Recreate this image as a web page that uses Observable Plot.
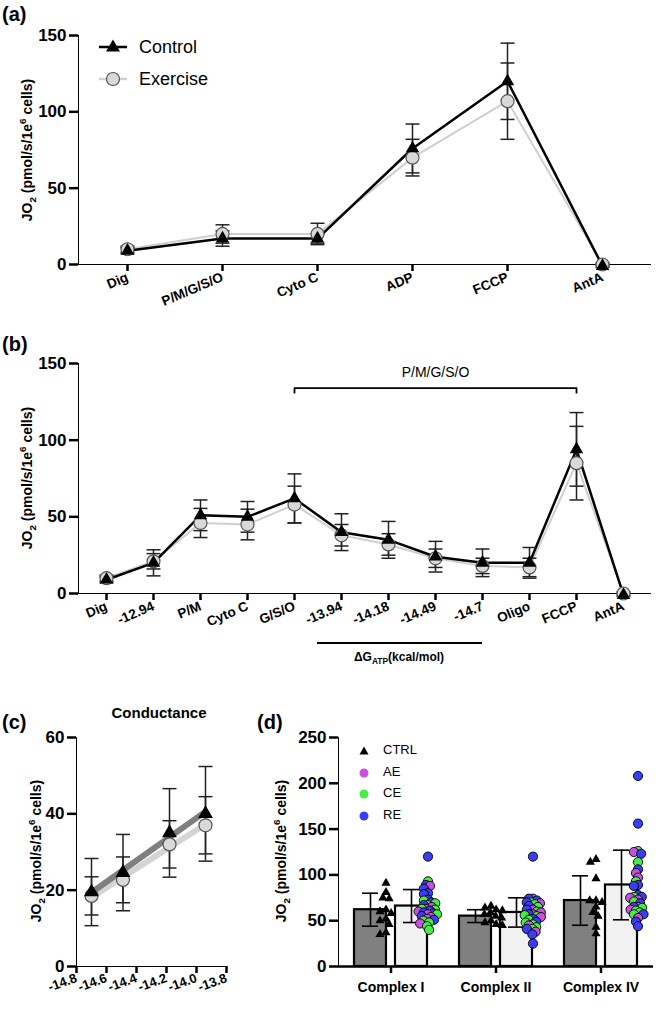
<!DOCTYPE html>
<html><head><meta charset="utf-8">
<script src="https://cdn.jsdelivr.net/npm/d3@7"></script>
<script src="https://cdn.jsdelivr.net/npm/@observablehq/plot@0.6"></script>
<style>
body{margin:0;background:#fff;}
#fig{position:relative;width:661px;height:1014px;overflow:hidden;font-family:"Liberation Sans",Arial,sans-serif;color:#000;background:#fff;}
.abs{position:absolute;white-space:nowrap;line-height:1;}
.pl{position:absolute;}
.pl svg{overflow:visible;}
.pl g[aria-label^="x-axis"], .pl g[aria-label^="y-axis"], .pl g[aria-label^="fx-axis"]{stroke-width:2.5px;}
.pl g[aria-label$="tick label"]{font-weight:700;}
.pl g[aria-label="y-axis tick label"]{font-size:17px;}
#pa g[aria-label="x-axis tick label"], #pb g[aria-label="x-axis tick label"]{font-size:13.5px;}
#pc g[aria-label="x-axis tick label"]{font-size:13px;}
#pd g[aria-label="fx-axis tick label"]{font-size:14px;}
.ylab{position:absolute;white-space:nowrap;font-weight:700;font-size:14px;transform:translate(-50%,-50%) rotate(-90deg);line-height:1;}
.ylab sub,.ylab sup{font-size:70%;line-height:0;}
.plab{position:absolute;font-weight:700;font-size:20px;line-height:1;}
</style>
</head>
<body>
<div id="fig"></div>
<script>
// ---------- Panel (a) data ----------
const stepsA = ["Dig", "P/M/G/S/O", "Cyto C", "ADP", "FCCP", "AntA"];
const ctrlA = [9, 17, 17, 76, 120, -1];
const ctrlSdA = [2, 5, 3, 16, 25, 1];
const exA = [10, 20, 20, 70, 107, 0];
const exSdA = [2, 6, 7, 12, 25, 1];

// ---------- Panel (b) data ----------
const stepsB = ["Dig", "-12.94", "P/M", "Cyto C", "G/S/O", "-13.94", "-14.18", "-14.49", "-14.7", "Oligo", "FCCP", "AntA"];
const ctrlB = [9, 20, 51, 50, 62, 40, 35, 24, 20, 20, 94, -1];
const ctrlSdB = [2, 8.5, 10, 10, 16, 12, 12, 10, 9, 10, 24, 1];
const exB = [10, 21, 46, 45, 58, 38, 32, 23, 18, 17, 85, 0];
const exSdB = [2, 5, 9.5, 10, 12, 7, 7, 6, 5, 6, 24, 1];
const bracketEndsB = ["G/S/O", "FCCP"];
const bracketMidB = "-14.49";
const bracketLabelB = "P/M/G/S/O";

// ---------- Panel (c) data ----------
const dgC = [-14.7, -14.49, -14.18, -13.94];
const ctrlC = [19.5, 24.6, 35, 40];
const ctrlSdC = [8.8, 10, 11.6, 12.4];
const exC = [18.5, 22.7, 32, 37];
const exSdC = [5, 6, 6.2, 7.5];
const ticksC = [-14.8, -14.6, -14.4, -14.2, -14.0, -13.8];

// ---------- Panel (d) data ----------
const complexes = ["Complex I", "Complex II", "Complex IV"];
const ctrlMeanD = [62, 55, 72];
const ctrlSdD = [18, 7, 27];
const exMeanD = [66, 59, 89];
const exSdD = [18, 16, 38];
const ctrlPtsD = [
  [91, 81, 75, 74, 62, 60, 58, 52, 50, 46, 37, 35],
  [66, 64, 62, 61, 59, 57, 55, 53, 50, 48, 46, 45],
  [117, 114, 96, 72, 72, 70, 65, 59, 55, 43, 36]
];
const aePtsD = [
  [88, 65, 63, 60, 57, 54, 52, 47],
  [74, 69, 62, 59, 57, 54, 45, 38],
  [125, 102, 97, 75, 73, 65, 62, 53]
];
const cePtsD = [
  [93, 72, 69, 67, 63, 62, 57, 50, 48, 44, 40],
  [70, 68, 65, 60, 56, 55, 51, 48, 46, 43, 41],
  [126, 114, 93, 76, 71, 64, 61, 59, 57]
];
const rePtsD = [
  [120, 89, 85, 80, 79, 73, 70, 67, 61, 59, 58, 55, 51],
  [120, 74, 72, 70, 66, 62, 57, 52, 49, 41, 35, 25],
  [208, 156, 123, 106, 89, 88, 78, 76, 69, 65, 57, 49, 44]
];
const groupColors = {AE: "#c94fde", CE: "#45ee45", RE: "#3c3cf2"};

// ---------- helpers ----------
const FONT = '"Liberation Sans", Arial, sans-serif';
const fig = document.getElementById("fig");
const capSymbol = {draw(ctx, size) { const r = Math.sqrt(size / Math.PI); ctx.moveTo(-r, 0); ctx.lineTo(r, 0); }};
// circle drawn larger than its layout radius so the swarm can overlap like the original
const swarmR = 2.6, swarmDraw = 4.6;
const swarmCircle = {draw(ctx, size) { const r = Math.sqrt(size / Math.PI) * (swarmDraw / swarmR); ctx.moveTo(r, 0); ctx.arc(0, 0, r, 0, 2 * Math.PI); }};
function place(el, id, left, top) {
  const d = document.createElement("div");
  d.className = "pl"; d.id = id; d.style.left = left + "px"; d.style.top = top + "px";
  d.appendChild(el); fig.appendChild(d);
}
function html(cls, h, style) {
  const d = document.createElement("div");
  d.className = cls; d.innerHTML = h; Object.assign(d.style, style); fig.appendChild(d); return d;
}
const yLabelHTML = 'JO<sub>2</sub> (pmol/s/1e<sup>6</sup> cells)';
const styleBase = {fontFamily: FONT, fontSize: "13px", color: "#000", background: "transparent", overflow: "visible"};

function errorMarks(rows, xk, vk, sk, r) {
  return [
    Plot.ruleX(rows, {x: xk, y1: d => d[vk] - d[sk], y2: d => d[vk] + d[sk], stroke: "#222", strokeWidth: 1.5}),
    Plot.dot(rows, {x: xk, y: d => d[vk] + d[sk], symbol: capSymbol, r, fill: "none", stroke: "#222", strokeWidth: 1.5}),
    Plot.dot(rows, {x: xk, y: d => d[vk] - d[sk], symbol: capSymbol, r, fill: "none", stroke: "#222", strokeWidth: 1.5})
  ];
}

// ---------- Panel (a) ----------
const rowsA = stepsA.map((s, i) => ({step: s, ctrl: ctrlA[i], ctrlSd: ctrlSdA[i], ex: exA[i], exSd: exSdA[i]}));
const plotA = Plot.plot({
  width: 661, height: 305, marginLeft: 78, marginRight: 11, marginTop: 35, marginBottom: 41,
  style: styleBase,
  x: {type: "point", domain: stepsA, padding: 0.5, label: null, tickSize: 7, tickPadding: 5, tickRotate: -23, line: true},
  y: {domain: [0, 150], ticks: [0, 50, 100, 150], label: null, tickSize: 9, tickPadding: 3, line: true},
  marks: [
    Plot.line(rowsA, {x: "step", y: "ex", stroke: "#cfcfcf", strokeWidth: 2}),
    Plot.line(rowsA, {x: "step", y: "ctrl", stroke: "#000", strokeWidth: 2.5}),
    ...errorMarks(rowsA, "step", "ex", "exSd", 7),
    ...errorMarks(rowsA, "step", "ctrl", "ctrlSd", 7),
    Plot.dot(rowsA, {x: "step", y: "ex", r: 6.5, fill: "#d9d9d9", stroke: "#555", strokeWidth: 1.2}),
    Plot.dot(rowsA, {x: "step", y: "ctrl", symbol: "triangle", r: 5, fill: "#000", stroke: "none"})
  ]
});
place(plotA, "pa", 0, 0);

// ---------- Panel (b) ----------
const rowsB = stepsB.map((s, i) => ({step: s, ctrl: ctrlB[i], ctrlSd: ctrlSdB[i], ex: exB[i], exSd: exSdB[i]}));
const bracketLevel = 134, bracketDrop = 3, bracketTextLevel = 144;
const plotB = Plot.plot({
  width: 661, height: 328, marginLeft: 78, marginRight: 11, marginTop: 53, marginBottom: 45,
  style: styleBase,
  x: {type: "point", domain: stepsB, padding: 0.5, label: null, tickSize: 7, tickPadding: 5, tickRotate: -23, line: true},
  y: {domain: [0, 150], ticks: [0, 50, 100, 150], label: null, tickSize: 9, tickPadding: 3, line: true},
  marks: [
    Plot.line([
      {x: bracketEndsB[0], y: bracketLevel - bracketDrop}, {x: bracketEndsB[0], y: bracketLevel},
      {x: bracketEndsB[1], y: bracketLevel}, {x: bracketEndsB[1], y: bracketLevel - bracketDrop}
    ], {x: "x", y: "y", stroke: "#000", strokeWidth: 1.8}),
    Plot.text([bracketLabelB], {x: () => bracketMidB, y: () => bracketTextLevel, text: d => d, fontSize: 14, fill: "#000"}),
    Plot.line(rowsB, {x: "step", y: "ex", stroke: "#cfcfcf", strokeWidth: 2}),
    Plot.line(rowsB, {x: "step", y: "ctrl", stroke: "#000", strokeWidth: 2.5}),
    ...errorMarks(rowsB, "step", "ex", "exSd", 7),
    ...errorMarks(rowsB, "step", "ctrl", "ctrlSd", 7),
    Plot.dot(rowsB, {x: "step", y: "ex", r: 6.5, fill: "#d9d9d9", stroke: "#555", strokeWidth: 1.2}),
    Plot.dot(rowsB, {x: "step", y: "ctrl", symbol: "triangle", r: 5, fill: "#000", stroke: "none"})
  ]
});
place(plotB, "pb", 0, 310);

// ---------- Panel (c) ----------
const rowsC = dgC.map((g, i) => ({dg: g, ctrl: ctrlC[i], ctrlSd: ctrlSdC[i], ex: exC[i], exSd: exSdC[i]}));
const plotC = Plot.plot({
  width: 240, height: 324, marginLeft: 76, marginRight: 14, marginTop: 47, marginBottom: 48,
  style: styleBase,
  x: {domain: [-14.8, -13.8], ticks: ticksC, tickFormat: d => d.toFixed(1), label: null, tickSize: 7, tickPadding: 4, tickRotate: -20, line: true},
  y: {domain: [0, 60], ticks: [0, 20, 40, 60], label: null, tickSize: 9, tickPadding: 3, line: true},
  marks: [
    Plot.linearRegressionY(rowsC, {x: "dg", y: "ex", stroke: "#d4d4d4", strokeWidth: 6, ci: 0}),
    Plot.linearRegressionY(rowsC, {x: "dg", y: "ctrl", stroke: "#7f7f7f", strokeWidth: 6, ci: 0}),
    ...errorMarks(rowsC, "dg", "ex", "exSd", 7),
    ...errorMarks(rowsC, "dg", "ctrl", "ctrlSd", 7),
    Plot.dot(rowsC, {x: "dg", y: "ex", r: 6.5, fill: "#d9d9d9", stroke: "#555", strokeWidth: 1.2}),
    Plot.dot(rowsC, {x: "dg", y: "ctrl", symbol: "triangle", r: 5.5, fill: "#000", stroke: "none"})
  ]
});
place(plotC, "pc", 0, 690);

// ---------- Panel (d) ----------
const widthD = 421, mlD = 97, mrD = 8;
const facetW = (widthD - mlD - mrD) / complexes.length;
const barW = 33, barGap = 9, bandStep = barW + barGap;
const piD = barGap / bandStep;
const poD = (facetW / bandStep - 2 + piD) / 2;
const barsD = [];
complexes.forEach((c, i) => {
  barsD.push({complex: c, group: "CTRL", mean: ctrlMeanD[i], sd: ctrlSdD[i], fill: "#808080"});
  barsD.push({complex: c, group: "EX", mean: exMeanD[i], sd: exSdD[i], fill: "#f2f2f2"});
});
const ctrlDots = [];
complexes.forEach((c, i) => ctrlPtsD[i].forEach(v => ctrlDots.push({complex: c, v})));
const exDots = [];
complexes.forEach((c, i) => {
  const arr = [];
  aePtsD[i].forEach(v => arr.push({complex: c, v, g: "AE"}));
  cePtsD[i].forEach(v => arr.push({complex: c, v, g: "CE"}));
  rePtsD[i].forEach(v => arr.push({complex: c, v, g: "RE"}));
  arr.sort((a, b) => b.v - a.v);
  exDots.push(...arr);
});
const plotD = Plot.plot({
  width: widthD, height: 324, marginLeft: mlD, marginRight: mrD, marginTop: 47, marginBottom: 48,
  style: styleBase,
  color: {type: "identity"},
  fx: {domain: complexes, paddingInner: 0, paddingOuter: 0, label: null, tickSize: 7, tickPadding: 9, axis: "bottom"},
  x: {domain: ["CTRL", "EX"], paddingInner: piD, paddingOuter: poD, axis: null},
  y: {domain: [0, 250], ticks: [0, 50, 100, 150, 200, 250], label: null, tickSize: 9, tickPadding: 3, line: true},
  marks: [
    Plot.barY(barsD, {fx: "complex", x: "group", y: "mean", fill: "fill", stroke: "#000", strokeWidth: 2.2}),
    Plot.ruleX(barsD, {fx: "complex", x: "group", y1: d => d.mean - d.sd, y2: d => d.mean + d.sd, stroke: "#000", strokeWidth: 1.6}),
    Plot.tickY(barsD, {fx: "complex", x: "group", y: d => d.mean + d.sd, insetLeft: 8, insetRight: 8, stroke: "#000", strokeWidth: 1.6}),
    Plot.tickY(barsD, {fx: "complex", x: "group", y: d => d.mean - d.sd, insetLeft: 8, insetRight: 8, stroke: "#000", strokeWidth: 1.6}),
    Plot.ruleY([0], {stroke: "#000", strokeWidth: 2.5}),
    Plot.dot(ctrlDots, Plot.dodgeX({anchor: "middle", padding: -0.5}, {fx: "complex", y: "v", r: 3.4, symbol: "triangle", fill: "#000", stroke: "none", dx: -bandStep / 2})),
    Plot.dot(exDots, Plot.dodgeX({anchor: "middle", padding: -1}, {fx: "complex", y: "v", r: swarmR, symbol: swarmCircle, fill: d => groupColors[d.g], stroke: "#000", strokeWidth: 0.9, dx: bandStep / 2}))
  ]
});
place(plotD, "pd", 240, 690);

// ---------- Text overlays ----------
html("plab", "(a)", {left: "2px", top: "4px"});
html("plab", "(b)", {left: "2px", top: "334px"});
html("plab", "(c)", {left: "2px", top: "712px"});
html("plab", "(d)", {left: "257px", top: "712px"});

html("ylab", yLabelHTML, {left: "27px", top: "150px"});
html("ylab", yLabelHTML, {left: "27px", top: "478px"});
html("ylab", yLabelHTML, {left: "36px", top: "851px"});
html("ylab", yLabelHTML, {left: "281px", top: "851px"});

// legend (a)
html("abs", `<svg width="30" height="20" style="overflow:visible"><line x1="1" x2="29" y1="10" y2="10" stroke="#000" stroke-width="2.5"/><path d="M15,2.5 L22,14.5 L8,14.5 Z" fill="#000"/></svg>`, {left: "98px", top: "37px"});
html("abs", "Control", {left: "139px", top: "38px", fontSize: "18px"});
html("abs", `<svg width="30" height="20" style="overflow:visible"><line x1="1" x2="29" y1="10" y2="10" stroke="#d0d0d0" stroke-width="2.5"/><circle cx="15" cy="10" r="6.5" fill="#d9d9d9" stroke="#555" stroke-width="1.2"/></svg>`, {left: "98px", top: "69px"});
html("abs", "Exercise", {left: "139px", top: "70px", fontSize: "18px"});

// ΔG annotation (b)
html("abs", "", {left: "317px", top: "642px", width: "165px", height: "0", borderTop: "2px solid #000"});
html("abs", "ΔG<sub style='font-size:70%;line-height:0'>ATP</sub>(kcal/mol)", {left: "399px", top: "651px", fontSize: "12px", fontWeight: "700", transform: "translateX(-50%)"});

// Conductance title (c)
html("abs", "Conductance", {left: "159px", top: "705px", fontSize: "15px", fontWeight: "700", transform: "translateX(-50%)"});

// legend (d)
const legD = [["CTRL", null], ["AE", groupColors.AE], ["CE", groupColors.CE], ["RE", groupColors.RE]];
legD.forEach(([lab, col], i) => {
  const cy = 750 + i * 21.7;
  const sym = col ? `<svg width="12" height="12"><circle cx="6" cy="6" r="4.5" fill="${col}"/></svg>`
                  : `<svg width="12" height="12"><path d="M6,1.5 L10.5,9.5 L1.5,9.5 Z" fill="#000"/></svg>`;
  html("abs", sym, {left: (364 - 6) + "px", top: (cy - 6) + "px"});
  html("abs", lab, {left: "383px", top: (cy - 7) + "px", fontSize: "13px"});
});
</script>
</body></html>
